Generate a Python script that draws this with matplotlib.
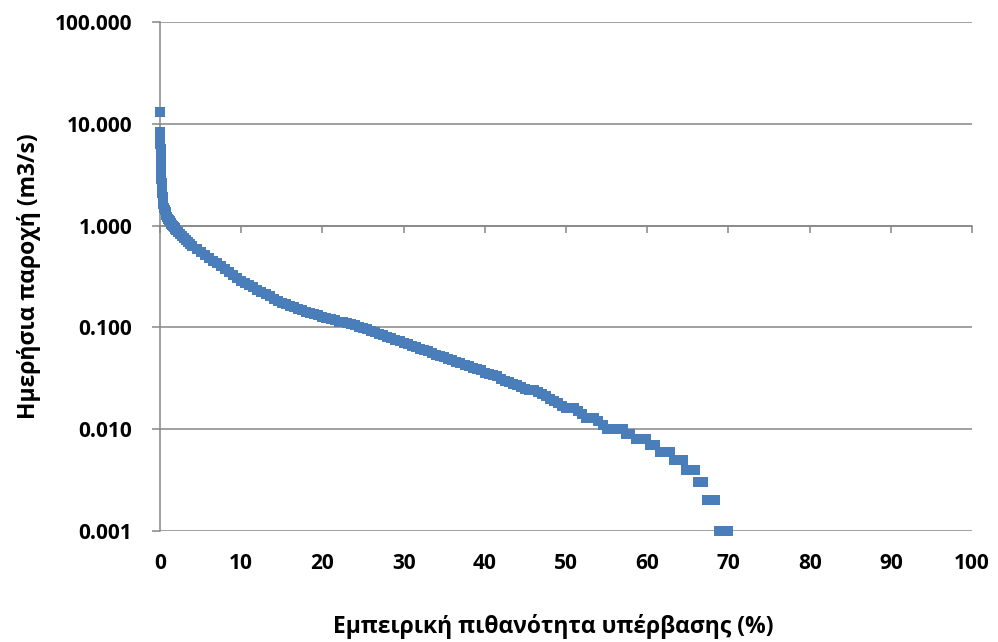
import matplotlib
matplotlib.use("Agg")
import matplotlib.pyplot as plt
from matplotlib.ticker import FixedLocator, FixedFormatter, NullLocator

plt.rcParams['font.family'] = ['Open Sans', 'DejaVu Sans']
plt.rcParams['font.weight'] = 'bold'

# Flow duration curve: exceedance probability (%) and daily discharge (m3/s)
exceedance = [
    0.00, 0.03, 0.04, 0.05, 0.06, 0.07, 0.08, 0.09, 0.10, 0.12, 0.14, 0.16, 0.18,
    0.21, 0.24, 0.28, 0.32, 0.37, 0.43, 0.50, 0.60, 0.70, 0.80, 0.90, 1.00, 1.10,
    1.20, 1.30, 1.40, 1.50, 1.60, 1.70, 1.80, 1.90, 2.00, 2.25, 2.50, 2.75, 3.00,
    3.25, 3.50, 3.75, 4.00, 4.50, 5.00, 5.50, 6.00, 6.50,
    7.00, 7.50, 8.00, 8.50, 9.00, 9.50, 10.0, 10.5, 11.0, 11.5, 12.0, 12.5, 13.0,
    13.5, 14.0, 14.5, 15.0, 15.5, 16.0, 16.5, 17.0, 17.5, 18.0, 18.5, 19.0, 19.5,
    20.0, 20.5, 21.0, 21.5, 22.0, 22.5, 23.0, 23.5, 24.0, 24.5, 25.0, 25.5, 26.0,
    26.5, 27.0, 27.5, 28.0, 28.5, 29.0, 29.5, 30.0, 30.5, 31.0, 31.5, 32.0, 32.5,
    33.0, 33.5, 34.0, 34.5, 35.0, 35.5, 36.0, 36.5, 37.0, 37.5, 38.0, 38.5, 39.0,
    39.5, 40.0, 40.5, 41.0, 41.5, 42.0, 42.5, 43.0, 43.5, 44.0, 44.5, 45.0, 45.5,
    46.0, 46.5, 47.0, 47.5, 48.0, 48.5, 49.0, 49.5, 50.0, 50.5, 51.0, 51.5, 52.0,
    52.5, 53.0, 53.5, 54.0, 54.5, 55.0, 55.5, 56.0, 56.5, 57.0, 57.4, 57.9, 58.6,
    59.2, 59.8, 60.3, 60.9, 61.6, 62.2, 62.8, 63.3, 63.9, 64.4, 64.8, 65.3, 65.9,
    66.3, 66.9, 67.3, 67.9, 68.4, 68.8, 69.3, 69.9,
]
discharge = [
    13.1, 8.3, 7.6, 7.0, 6.3, 5.7, 5.2, 4.7, 4.3, 3.9, 3.5, 3.2, 2.9,
    2.6, 2.35, 2.1, 1.9, 1.75, 1.62, 1.5, 1.42, 1.35, 1.28, 1.22, 1.17, 1.135,
    1.10, 1.07, 1.04, 1.015, 0.99, 0.97, 0.95, 0.93, 0.91, 0.87, 0.83, 0.795, 0.76,
    0.725, 0.69, 0.66, 0.63, 0.585, 0.545, 0.51, 0.48, 0.45,
    0.425, 0.40, 0.375, 0.35, 0.325, 0.305, 0.285, 0.272, 0.260, 0.247, 0.235, 0.225, 0.215,
    0.202, 0.190, 0.182, 0.175, 0.168, 0.162, 0.157, 0.152, 0.147, 0.143, 0.139, 0.135, 0.131,
    0.127, 0.123, 0.120, 0.117, 0.114, 0.112, 0.110, 0.108, 0.105, 0.102, 0.099, 0.096, 0.093,
    0.090, 0.087, 0.084, 0.081, 0.078, 0.076, 0.073, 0.071, 0.068, 0.066, 0.064, 0.062, 0.060,
    0.058, 0.056, 0.054, 0.052, 0.051, 0.049, 0.048, 0.046, 0.045, 0.043, 0.042, 0.040, 0.039,
    0.038, 0.036, 0.035, 0.034, 0.033, 0.031, 0.030, 0.029, 0.028, 0.027, 0.026, 0.025, 0.024,
    0.024, 0.023, 0.022, 0.021, 0.020, 0.019, 0.018, 0.017, 0.016, 0.016, 0.016, 0.015, 0.014,
    0.013, 0.013, 0.013, 0.012, 0.011, 0.010, 0.010, 0.010, 0.010, 0.010, 0.009, 0.009, 0.008,
    0.008, 0.008, 0.007, 0.007, 0.006, 0.006, 0.006, 0.005, 0.005, 0.005, 0.004, 0.004, 0.004,
    0.003, 0.003, 0.002, 0.002, 0.002, 0.001, 0.001, 0.001,
]

y_ticks = [0.001, 0.01, 0.1, 1, 10, 100]
y_tick_labels = ['0.001', '0.010', '0.100', '1.000', '10.000', '100.000']
x_ticks = [0, 10, 20, 30, 40, 50, 60, 70, 80, 90, 100]
x_tick_labels = [str(v) for v in x_ticks]

x_label = 'Εμπειρική πιθανότητα υπέρβασης (%)'
y_label = 'Ημερήσια παροχή (m3/s)'

marker_color = '#4A7EBB'
axis_grey = '#868686'
tick_size = 15
title_size = 16.5

fig = plt.figure(figsize=(9.98, 6.42), dpi=100)
ax = fig.add_axes([0.1603, 0.1729, 0.974 - 0.1603, 0.9657 - 0.1729])

ax.plot(exceedance, discharge, linestyle='none', marker='s', markersize=7.2,
        color=marker_color, markeredgewidth=0, clip_on=False, zorder=3)

ax.set_yscale('log')
ax.set_xlim(0, 100)
ax.set_ylim(0.001, 100)

# y axis: decades with grey gridlines and outside ticks
ax.yaxis.set_major_locator(FixedLocator(y_ticks))
ax.yaxis.set_major_formatter(FixedFormatter(y_tick_labels))
ax.yaxis.set_minor_locator(NullLocator())
ax.grid(axis='y', color=axis_grey, linewidth=1.1)
ax.set_axisbelow(True)
ax.tick_params(axis='y', direction='out', length=6, width=1.1, color=axis_grey,
               pad=14, labelsize=tick_size)

# horizontal axis line crosses the value axis at 1.0
ax.spines['bottom'].set_position(('data', 1))
ax.spines['bottom'].set_color(axis_grey)
ax.spines['bottom'].set_linewidth(1.1)
ax.spines['left'].set_color(axis_grey)
ax.spines['left'].set_linewidth(1.1)
ax.spines['top'].set_visible(False)
ax.spines['right'].set_visible(False)
ax.xaxis.set_major_locator(FixedLocator(x_ticks))
ax.tick_params(axis='x', direction='out', length=5, width=1.1, color=axis_grey,
               labelbottom=False)

# category labels sit below the plot area
low = ax.secondary_xaxis('bottom')
low.xaxis.set_major_locator(FixedLocator(x_ticks))
low.xaxis.set_major_formatter(FixedFormatter(x_tick_labels))
low.spines['bottom'].set_visible(False)
low.tick_params(axis='x', length=0, pad=16, labelsize=tick_size)
low.set_xlabel(x_label, fontsize=title_size, fontweight='bold', labelpad=29)
low.xaxis.label.set_x(0.484)

ax.set_ylabel(y_label, fontsize=title_size, fontweight='bold', labelpad=10)

fig.savefig('out.png', dpi=100)
